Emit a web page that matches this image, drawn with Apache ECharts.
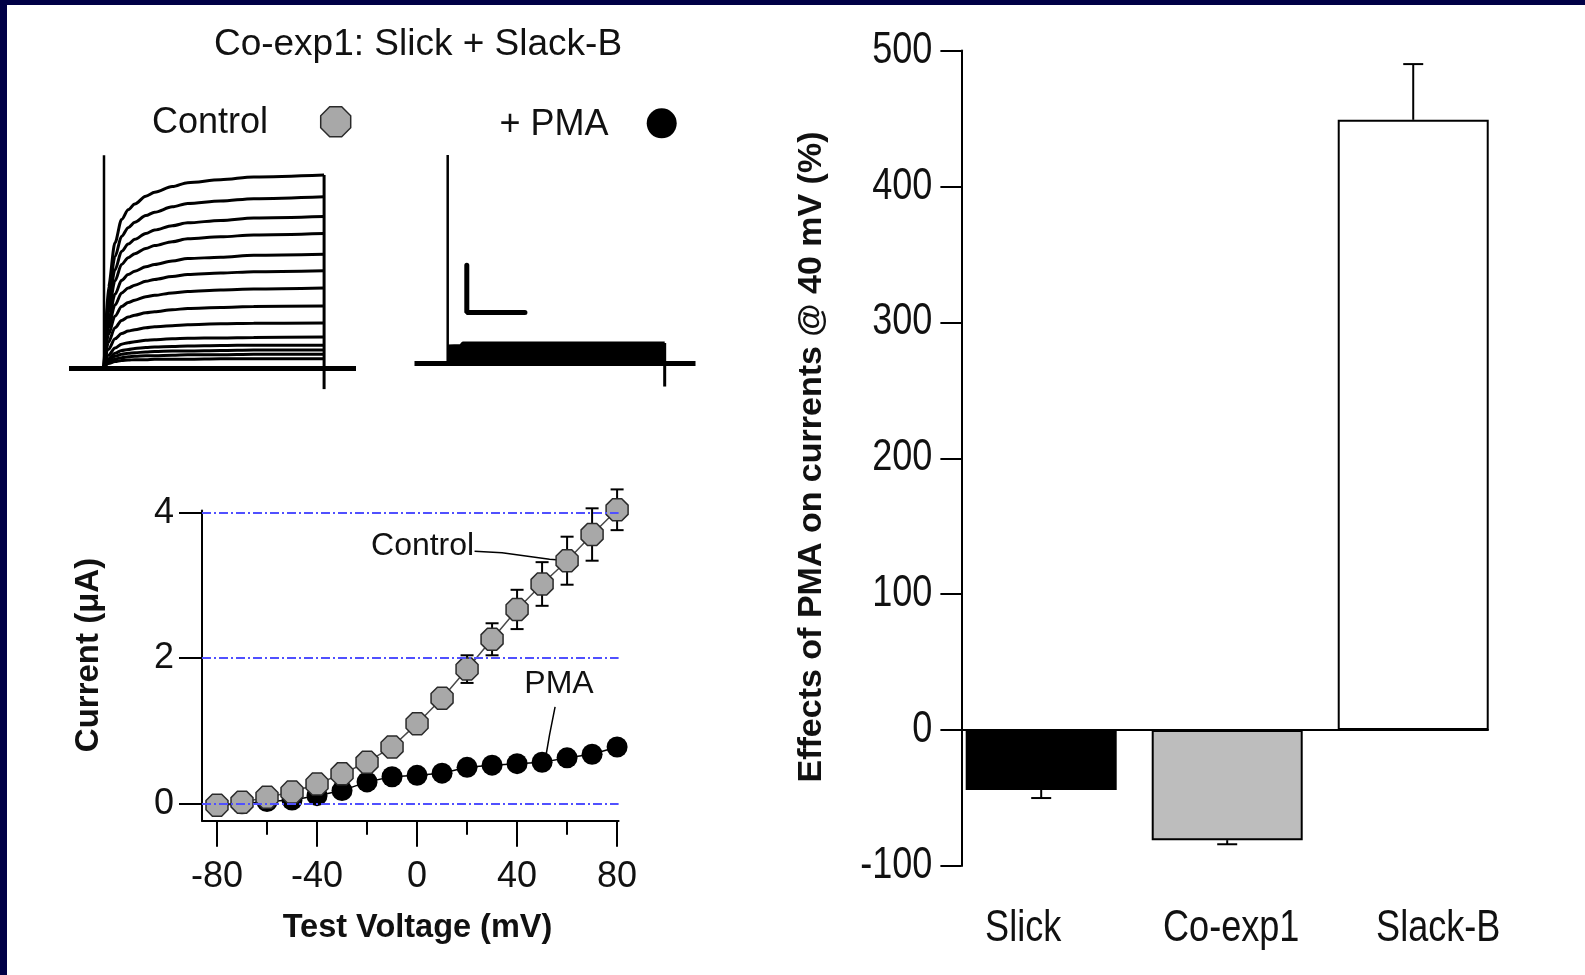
<!DOCTYPE html>
<html>
<head>
<meta charset="utf-8">
<title>Co-exp1: Slick + Slack-B</title>
<script src="https://cdn.jsdelivr.net/npm/echarts@6/dist/echarts.min.js"></script>
<style>
  html, body { margin: 0; padding: 0; background: #fff; }
  #chart { position: absolute; left: 0; top: 0; width: 1585px; height: 975px; }
  .frame-top { position: absolute; left: 0; top: 0; width: 1585px; height: 5px; background: #000046; }
  .frame-left { position: absolute; left: 0; top: 0; width: 7px; height: 975px; background: #000046; }
</style>
</head>
<body>
<div id="chart"></div>
<div class="frame-top"></div>
<div class="frame-left"></div>
<script>
// raw current traces, sampled at these times (ms into the 100 ms step)
const traceTime = [0, 2, 5, 8, 11, 14, 19, 23, 31, 38, 53, 68, 100];
const controlTraces = [
  [0, 1.68, 2.60, 3.08, 3.28, 3.40, 3.56, 3.64, 3.76, 3.84, 3.90, 3.96, 4.00],
  [0, 1.49, 2.31, 2.73, 2.91, 3.02, 3.16, 3.23, 3.34, 3.41, 3.46, 3.51, 3.55],
  [0, 1.32, 2.04, 2.42, 2.57, 2.67, 2.79, 2.86, 2.95, 3.01, 3.06, 3.11, 3.14],
  [0, 1.17, 1.81, 2.15, 2.29, 2.37, 2.48, 2.54, 2.62, 2.68, 2.72, 2.76, 2.79],
  [0, 0.99, 1.53, 1.82, 1.94, 2.01, 2.10, 2.15, 2.22, 2.27, 2.30, 2.34, 2.36],
  [0, 0.85, 1.31, 1.56, 1.66, 1.72, 1.80, 1.84, 1.90, 1.94, 1.97, 2.00, 2.02],
  [0, 0.70, 1.08, 1.28, 1.36, 1.41, 1.48, 1.51, 1.56, 1.59, 1.62, 1.64, 1.66],
  [0, 0.54, 0.84, 0.99, 1.06, 1.10, 1.15, 1.17, 1.21, 1.24, 1.26, 1.28, 1.29],
  [0, 0.39, 0.61, 0.72, 0.77, 0.80, 0.84, 0.86, 0.88, 0.90, 0.92, 0.93, 0.94],
  [0, 0.27, 0.42, 0.50, 0.53, 0.55, 0.58, 0.59, 0.61, 0.62, 0.63, 0.64, 0.65],
  [0, 0.20, 0.31, 0.37, 0.39, 0.41, 0.43, 0.44, 0.45, 0.46, 0.47, 0.48, 0.48],
  [0, 0.16, 0.25, 0.29, 0.31, 0.32, 0.34, 0.35, 0.36, 0.36, 0.37, 0.38, 0.38],
  [0, 0.12, 0.19, 0.22, 0.24, 0.25, 0.26, 0.26, 0.27, 0.28, 0.28, 0.29, 0.29],
  [0, 0.10, 0.14, 0.16, 0.17, 0.18, 0.18, 0.19, 0.19, 0.19, 0.20, 0.20, 0.20]
];
const controlSpike = [0, 4.41];   // capacitive spike at t=0
const controlTail = [4.0, -0.43]; // step off at t=100

const pmaTime = [0, 6, 7, 100];
const pmaTop = [0.36, 0.37, 0.42, 0.42];
const pmaSpike = [0, 4.31];
const pmaTail = [0.42, -0.48];
const scaleBar = [[8.8, 2.03], [8.8, 1.05], [35.6, 1.05]];

// I-V curve
const voltages = [-80, -70, -60, -50, -40, -30, -20, -10, 0, 10, 20, 30, 40, 50, 60, 70, 80];
const controlI = [-0.02, 0.02, 0.09, 0.16, 0.27, 0.41, 0.57, 0.78, 1.10, 1.45, 1.85, 2.26, 2.67, 3.02, 3.34, 3.70, 4.04];
const controlErr = [0, 0, 0, 0, 0, 0, 0, 0, 0.05, 0.08, 0.19, 0.22, 0.27, 0.30, 0.33, 0.36, 0.28];
const pmaI = [-0.02, 0.0, 0.03, 0.05, 0.11, 0.18, 0.30, 0.37, 0.39, 0.42, 0.50, 0.53, 0.55, 0.57, 0.63, 0.68, 0.78];
const ivYTicks = [0, 2, 4];
const ivXLabels = [-80, -40, 0, 40, 80];
const ivXMinor = [-60, -20, 20, 60];
const controlLeader = [[23, 3.47], [34, 3.45], [53, 3.36], [57, 3.35]];
const pmaLeader = [[55.2, 1.33], [53, 0.95], [51.5, 0.65]];

// PMA effect @ 40 mV
const groups = ['Slick', 'Co-exp1', 'Slack-B'];
const effect = [-44, -81, 449];
const effectErr = [6, 3, 41];
const effectTicks = [-100, 0, 100, 200, 300, 400, 500];

const barColors = ['#000000', '#bdbdbd', '#ffffff'];
const groupLabelShift = [-18, 4, 25];
const FONT = "'Liberation Sans', Arial, sans-serif";

let myChart = echarts.init(document.getElementById('chart'));

function ivErrorBar(params, api) {
  const x = api.value(0), y = api.value(1), e = api.value(2);
  const top = api.coord([x, y + e]);
  const bot = api.coord([x, y - e]);
  const half = 6.5;
  const style = { stroke: '#000', lineWidth: 2 };
  return {
    type: 'group',
    children: [
      { type: 'line', shape: { x1: top[0], y1: top[1], x2: bot[0], y2: bot[1] }, style: style },
      { type: 'line', shape: { x1: top[0] - half, y1: top[1], x2: top[0] + half, y2: top[1] }, style: style },
      { type: 'line', shape: { x1: bot[0] - half, y1: bot[1], x2: bot[0] + half, y2: bot[1] }, style: style }
    ]
  };
}

function barErrorBar(params, api) {
  const x = api.value(0), y = api.value(1), e = api.value(2);
  const sign = y < 0 ? -1 : 1;
  const from = api.coord([x, y]);
  const to = api.coord([x, y + sign * e]);
  const half = 10;
  const style = { stroke: '#000', lineWidth: 2 };
  return {
    type: 'group',
    children: [
      { type: 'line', shape: { x1: from[0], y1: from[1], x2: to[0], y2: to[1] }, style: style },
      { type: 'line', shape: { x1: to[0] - half, y1: to[1], x2: to[0] + half, y2: to[1] }, style: style }
    ]
  };
}

const plainLine = (xi, data, width, extra) => Object.assign({
  type: 'line',
  xAxisIndex: xi,
  yAxisIndex: xi,
  data: data,
  showSymbol: false,
  symbol: 'none',
  silent: true,
  clip: false,
  lineStyle: { color: '#000', width: width }
}, extra || {});

const baseLineMark = {
  symbol: 'none',
  silent: true,
  label: { show: false },
  lineStyle: { color: '#000', width: 5, type: 'solid' },
  data: [{ yAxis: 0 }]
};

let series = [];

// control traces
controlTraces.forEach((v, k) => {
  series.push(plainLine(0, traceTime.map((t, i) => [t, v[i]]), 3, {
    smooth: 0.3,
    smoothMonotone: 'x',
    markLine: k === 0 ? baseLineMark : undefined
  }));
});
series.push(plainLine(0, [[0, controlSpike[0]], [0, controlSpike[1]]], 2.5));
series.push(plainLine(0, [[100, controlTail[0]], [100, controlTail[1]]], 3));

// PMA traces
series.push(plainLine(1, pmaTime.map((t, i) => [t, pmaTop[i]]), 3, {
  areaStyle: { color: '#000', opacity: 1 },
  markLine: baseLineMark
}));
series.push(plainLine(1, [[0, pmaSpike[0]], [0, pmaSpike[1]]], 2.5));
series.push(plainLine(1, [[100, pmaTail[0]], [100, pmaTail[1]]], 3));
series.push(plainLine(1, scaleBar, 5, { lineStyle: { color: '#000', width: 5, cap: 'round' } }));

// I-V plot
series.push({
  type: 'custom',
  xAxisIndex: 2,
  yAxisIndex: 2,
  renderItem: ivErrorBar,
  encode: { x: 0, y: 1 },
  z: 2,
  silent: true,
  clip: false,
  data: voltages.map((v, i) => [v, controlI[i], controlErr[i]]).filter(d => d[2] > 0)
});
series.push({
  name: 'PMA',
  type: 'line',
  xAxisIndex: 2,
  yAxisIndex: 2,
  z: 3,
  clip: false,
  data: voltages.map((v, i) => [v, pmaI[i]]),
  symbol: 'circle',
  symbolSize: 21,
  itemStyle: { color: '#000' },
  lineStyle: { color: '#000', width: 1.5 },
  markLine: {
    symbol: 'none',
    silent: true,
    label: { show: false },
    lineStyle: { color: '#5050ff', width: 2, type: [9, 3, 2, 3] },
    data: ivYTicks.map(t => ({ yAxis: t }))
  }
});
series.push({
  name: 'Control',
  type: 'line',
  xAxisIndex: 2,
  yAxisIndex: 2,
  z: 4,
  clip: false,
  data: voltages.map((v, i) => [v, controlI[i]]),
  symbol: 'path://M29,0 L71,0 L100,29 L100,71 L71,100 L29,100 L0,71 L0,29 Z',
  symbolSize: 22,
  itemStyle: { color: '#a8a8a8', borderColor: '#2a2a2a', borderWidth: 1.5 },
  lineStyle: { color: '#4a4a4a', width: 1.5 }
});
series.push(plainLine(2, controlLeader, 1.5));
series.push(plainLine(2, pmaLeader, 1.5));

// bars
series.push({
  type: 'bar',
  xAxisIndex: 4,
  yAxisIndex: 3,
  barWidth: 151,
  z: 2,
  data: effect.map((v, i) => ({
    value: [i, v],
    itemStyle: { color: barColors[i], borderColor: '#000', borderWidth: 2 }
  }))
});
series.push({
  type: 'custom',
  xAxisIndex: 4,
  yAxisIndex: 3,
  renderItem: barErrorBar,
  encode: { x: 0, y: 1 },
  z: 3,
  silent: true,
  clip: false,
  data: effect.map((v, i) => [i, v, effectErr[i]])
});

const hiddenAxis = (grid, min, max) => ({ type: 'value', gridIndex: grid, min: min, max: max, show: false });
const axisStroke = { show: true, onZero: false, lineStyle: { color: '#000', width: 2 } };
const txt = (x, y, text, size, extra) => Object.assign({
  type: 'text', x: x, y: y,
  style: { text: text, font: size + 'px ' + FONT, fill: '#111', align: 'center', verticalAlign: 'middle' }
}, extra || {});

let option = {
  animation: false,
  backgroundColor: '#fff',
  grid: [
    { left: 69, top: 150.8, width: 287, height: 241.7 },
    { left: 414.5, top: 145.8, width: 281, height: 241.7 },
    { left: 202, top: 510.5, width: 416.6, height: 310.3 },
    { left: 961.4, top: 50.5, width: 526.6, height: 815.5 }
  ],
  xAxis: [
    hiddenAxis(0, -15.9, 114.5),
    hiddenAxis(1, -15.3, 114.2),
    {
      type: 'value', gridIndex: 2, min: -86, max: 80.6, position: 'bottom',
      axisLine: axisStroke,
      axisTick: { show: true, customValues: ivXLabels, length: 26, lineStyle: { color: '#000', width: 2 } },
      axisLabel: { customValues: ivXLabels, fontSize: 36, fontFamily: FONT, color: '#111', margin: 38 },
      splitLine: { show: false }
    },
    {
      type: 'value', gridIndex: 2, min: -86, max: 80.6, position: 'bottom',
      axisLine: { show: false, onZero: false },
      axisTick: { show: true, customValues: ivXMinor, length: 14, lineStyle: { color: '#000', width: 2 } },
      axisLabel: { show: false },
      splitLine: { show: false }
    },
    {
      type: 'value', gridIndex: 3, min: -0.429, max: 2.402,
      axisLine: { show: true, onZero: true, lineStyle: { color: '#000', width: 2 } },
      axisTick: { show: false },
      axisLabel: { show: false },
      splitLine: { show: false }
    }
  ],
  yAxis: [
    hiddenAxis(0, -0.5, 4.5),
    hiddenAxis(1, -0.5, 4.5),
    {
      type: 'value', gridIndex: 2, min: -0.235, max: 4.03,
      axisLine: axisStroke,
      axisTick: { show: true, customValues: ivYTicks, length: 23, lineStyle: { color: '#000', width: 2 } },
      axisLabel: { customValues: ivYTicks, fontSize: 36, fontFamily: FONT, color: '#111', margin: 28 },
      splitLine: { show: false }
    },
    {
      type: 'value', gridIndex: 3, min: -100, max: 500, interval: 100,
      axisLine: axisStroke,
      axisTick: { show: true, length: 21, lineStyle: { color: '#000', width: 2 } },
      axisLabel: { show: false },
      splitLine: { show: false }
    }
  ],
  graphic: [
    txt(418, 45, 'Co-exp1: Slick + Slack-B', 37),
    txt(210, 123, 'Control', 36),
    {
      type: 'polygon', x: 335.7, y: 121.7,
      shape: { points: [[-6, -15], [6, -15], [15, -6], [15, 6], [6, 15], [-6, 15], [-15, 6], [-15, -6]] },
      style: { fill: '#a8a8a8', stroke: '#2a2a2a', lineWidth: 1.5 }
    },
    txt(554, 125, '+ PMA', 36),
    { type: 'circle', shape: { cx: 661.7, cy: 123.3, r: 15 }, style: { fill: '#000' } },
    txt(422.6, 546, 'Control', 32),
    txt(559, 684, 'PMA', 32),
    txt(417.5, 928, 'Test Voltage (mV)', 'bold 32.5'),
    txt(89, 655, 'Current (μA)', 'bold 33', { rotation: Math.PI / 2 }),
    txt(811.8, 457, 'Effects of PMA on currents @ 40 mV (%)', 'bold 34', { rotation: Math.PI / 2 })
  ],
  series: series
};

myChart.setOption(option);

// the bar panel uses a narrow face; no narrow font here, so squeeze the text
const narrow = (x, y, text, align) => txt(x, y, text, 44, {
  scaleX: 0.82,
  style: { text: text, font: '44px ' + FONT, fill: '#111', align: align, verticalAlign: 'middle' }
});
let extraText = [];
effectTicks.forEach(v => {
  const p = myChart.convertToPixel({ gridIndex: 3 }, [-0.429, v]);
  extraText.push(narrow(p[0] - 29, p[1], String(v), 'right'));
});
groups.forEach((g, i) => {
  const p = myChart.convertToPixel({ gridIndex: 3 }, [i, -100]);
  extraText.push(narrow(p[0] + groupLabelShift[i], p[1] + 63, g, 'center'));
});
myChart.setOption({ graphic: option.graphic.concat(extraText) });
</script>
</body>
</html>
